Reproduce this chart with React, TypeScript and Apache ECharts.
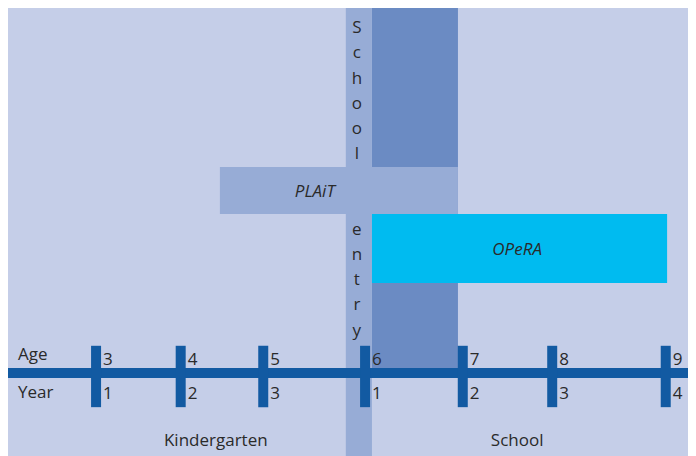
import React, { useEffect, useRef } from "react";
import * as echarts from "echarts";

// Timeline ticks (horizontal position in axis units 0–100) and their labels
const tickPos = [12.8, 25.1, 37.1, 51.9, 66.1, 79.1, 95.6];
const ages = [3, 4, 5, 6, 7, 8, 9];
const years = [1, 2, 3, 1, 2, 3, 4];
const rowLabels = ["Age", "Year"];

// Stages shown under the timeline
const stageNames = ["Kindergarten", "School"];
const stageCenters = [30.2, 74.0];

// School entry band and first-school-year block
const entryLabel = "School entry";
const entrySpan = [49.1, 52.9];
const firstYearSpan = [52.9, 65.4];
const firstYearBottom = 81.3;

// Projects (x span and y span in axis units)
const projects = ["PLAiT", "OPeRA"];
const projectStart = [30.8, 52.9];
const projectEnd = [65.4, 95.8];
const projectTop = [35.5, 46.0];
const projectBottom = [46.0, 61.4];
const projectLabelX = [44.6, 74.0];

// Timeline axis level and tick extent
const axisLevel = 81.5;
const tickTop = 75.4;
const tickBottom = 89.1;

const FONT = "'Open Sans', 'Noto Sans', sans-serif";
const TEXT = "#2a2a2a";

function rectRender(fill: string) {
  return (params: any, api: any) => {
    const p0 = api.coord([api.value(0), api.value(2)]);
    const p1 = api.coord([api.value(1), api.value(3)]);
    return {
      type: "rect",
      shape: { x: p0[0], y: p0[1], width: p1[0] - p0[0], height: p1[1] - p0[1] },
      style: { fill },
    };
  };
}

export default function App() {
  const ref = useRef<HTMLDivElement>(null);
  useEffect(() => {
    if (!ref.current) return;
    const chart = echarts.init(ref.current, undefined, { renderer: "svg" });

    const entryText = entryLabel
      .split(" ")
      .map((w) => w.split("").join("\n"))
      .join("\n\n\n");

    const option: any = {
      animation: false,
      backgroundColor: "#C5CEE8",
      grid: { left: 0, right: 0, top: 0, bottom: 0 },
      xAxis: { type: "value", min: 0, max: 100, show: false },
      yAxis: { type: "value", min: 0, max: 100, inverse: true, show: false },
      series: [
        {
          type: "custom",
          silent: true,
          renderItem: rectRender("#6B8BC3"),
          data: [[firstYearSpan[0], firstYearSpan[1], 0, firstYearBottom]],
          z: 1,
        },
        {
          type: "custom",
          silent: true,
          renderItem: rectRender("#97ACD6"),
          data: [[entrySpan[0], entrySpan[1], 0, 100]],
          z: 2,
        },
        {
          type: "custom",
          silent: true,
          renderItem: (params: any, api: any) => {
            const i = params.dataIndex;
            const p0 = api.coord([api.value(0), api.value(2)]);
            const p1 = api.coord([api.value(1), api.value(3)]);
            const c = api.coord([projectLabelX[i], (api.value(2) + api.value(3)) / 2]);
            return {
              type: "group",
              children: [
                {
                  type: "rect",
                  shape: { x: p0[0], y: p0[1], width: p1[0] - p0[0], height: p1[1] - p0[1] },
                  style: { fill: i === 0 ? "#97ACD6" : "#00BBF0" },
                },
                {
                  type: "text",
                  x: c[0],
                  y: c[1],
                  style: {
                    text: projects[i],
                    fill: TEXT,
                    fontSize: 17,
                    fontStyle: "italic",
                    fontFamily: FONT,
                    align: "center",
                    verticalAlign: "middle",
                  },
                },
              ],
            };
          },
          data: projects.map((_, i) => [projectStart[i], projectEnd[i], projectTop[i], projectBottom[i]]),
          z: 3,
        },
        {
          type: "custom",
          silent: true,
          renderItem: (params: any, api: any) => {
            const p = api.coord([(entrySpan[0] + entrySpan[1]) / 2, 0]);
            return {
              type: "text",
              x: p[0] - 2,
              y: p[1] + 6,
              style: {
                text: entryText,
                fill: TEXT,
                fontSize: 17,
                lineHeight: 25.2,
                fontFamily: FONT,
                align: "center",
                verticalAlign: "top",
              },
            };
          },
          data: [[0]],
          z: 4,
        },
        {
          type: "line",
          silent: true,
          symbol: "none",
          lineStyle: { color: "#125AA2", width: 10 },
          data: [
            [0, axisLevel],
            [100, axisLevel],
          ],
          z: 5,
        },
        {
          type: "custom",
          silent: true,
          renderItem: (params: any, api: any) => {
            const i = params.dataIndex;
            const p0 = api.coord([api.value(0), tickTop]);
            const p1 = api.coord([api.value(0), tickBottom]);
            const pa = api.coord([api.value(0), axisLevel]);
            const txt = (t: string, x: number, y: number) => ({
              type: "text",
              x,
              y,
              style: {
                text: t,
                fill: TEXT,
                fontSize: 17,
                fontFamily: FONT,
                align: "left",
                verticalAlign: "middle",
              },
            });
            return {
              type: "group",
              children: [
                {
                  type: "rect",
                  shape: { x: p0[0] - 5, y: p0[1], width: 10, height: p1[1] - p0[1] },
                  style: { fill: "#125AA2" },
                },
                txt(String(ages[i]), pa[0] + 7, pa[1] - 15),
                txt(String(years[i]), pa[0] + 7, pa[1] + 19),
              ],
            };
          },
          data: tickPos.map((x) => [x]),
          z: 6,
        },
        {
          type: "custom",
          silent: true,
          renderItem: (params: any, api: any) => {
            const pa = api.coord([0, axisLevel]);
            const mk = (t: string, y: number) => ({
              type: "text",
              x: pa[0] + 10,
              y,
              style: {
                text: t,
                fill: TEXT,
                fontSize: 17,
                fontFamily: FONT,
                align: "left",
                verticalAlign: "middle",
              },
            });
            return {
              type: "group",
              children: [mk(rowLabels[0], pa[1] - 20), mk(rowLabels[1], pa[1] + 18)],
            };
          },
          data: [[0]],
          z: 6,
        },
        {
          type: "custom",
          silent: true,
          renderItem: (params: any, api: any) => {
            const i = params.dataIndex;
            const p = api.coord([api.value(0), 96.4]);
            return {
              type: "text",
              x: p[0],
              y: p[1],
              style: {
                text: stageNames[i],
                fill: TEXT,
                fontSize: 17,
                fontFamily: FONT,
                align: "center",
                verticalAlign: "middle",
              },
            };
          },
          data: stageCenters.map((x) => [x]),
          z: 6,
        },
      ],
    };
    chart.setOption(option);
    return () => chart.dispose();
  }, []);
  return <div ref={ref} style={{ width: 688, height: 448 }} />;
}
